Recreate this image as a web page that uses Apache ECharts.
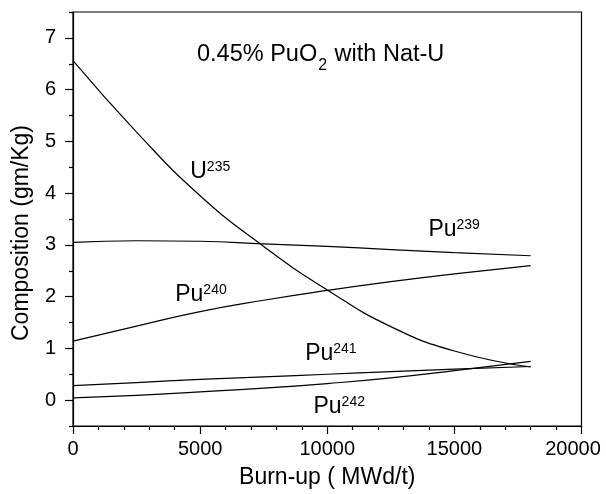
<!DOCTYPE html>
<html>
<head>
<meta charset="utf-8">
<script src="https://cdn.jsdelivr.net/npm/echarts@6/dist/echarts.min.js"></script>
<style>
html,body{margin:0;padding:0;background:#fff;}
#chart{width:606px;height:494px;}
</style>
</head>
<body>
<div id="chart"></div>
<script>
// ---- data ----
var burnup = [0, 2500, 5000, 7500, 10000, 12500, 15000, 18000];
var u235  = [6.56, 5.18, 3.95, 2.97, 2.13, 1.42, 0.95, 0.64];
var pu239 = [3.05, 3.08, 3.07, 3.02, 2.97, 2.91, 2.85, 2.79];
var pu240 = [1.14, 1.43, 1.71, 1.93, 2.12, 2.29, 2.44, 2.60];
var pu241 = [0.28, 0.34, 0.40, 0.45, 0.50, 0.55, 0.60, 0.65];
var pu242 = [0.045, 0.09, 0.16, 0.23, 0.32, 0.43, 0.57, 0.75];

var xTicks = [0, 5000, 10000, 15000, 20000];
var yTicks = [0, 1, 2, 3, 4, 5, 6, 7];
var yMinorTicks = [-0.5, 0.5, 1.5, 2.5, 3.5, 4.5, 5.5, 6.5, 7.5];

var labelBase = ['U', 'Pu', 'Pu', 'Pu', 'Pu'];
var labelSup  = ['235', '239', '240', '241', '242'];
var labelX    = [4611, 13978, 4021, 9131, 9458];
var labelY    = [4.42, 3.30, 2.03, 0.90, -0.13];

var titleParts = ['0.45% PuO', '2', ' with Nat-U'];
var xName = 'Burn-up ( MWd/t)';
var yName = 'Composition (gm/Kg)';

// ---- chart ----
var FONT = 'Liberation Sans, Arial, Helvetica, sans-serif';
function pair(xs, ys) { return xs.map(function (x, i) { return [x, ys[i]]; }); }

var lineStyle = { color: '#000', width: 1.2 };
function curve(name, ys) {
  return {
    name: name, type: 'line', data: pair(burnup, ys),
    smooth: 0.5, showSymbol: false, symbol: 'none',
    lineStyle: lineStyle, silent: true, animation: false
  };
}

var chart = echarts.init(document.getElementById('chart'), null, { renderer: 'canvas' });
chart.setOption({
  animation: false,
  backgroundColor: '#fff',
  title: {
    text: '{a|' + titleParts[0] + '}{s|' + titleParts[1] + '}{a|' + titleParts[2] + '}',
    left: 197, top: 43, padding: 0,
    textStyle: {
      fontWeight: 'normal', color: '#000',
      rich: {
        a: { fontFamily: FONT, fontSize: 23.5, lineHeight: 23.5, fontWeight: 'normal', color: '#000', verticalAlign: 'top' },
        s: { fontFamily: FONT, fontSize: 16, lineHeight: 16, fontWeight: 'normal', color: '#000', verticalAlign: 'top', padding: [15, 1, 0, 1] }
      }
    }
  },
  grid: {
    left: 73, right: 24.5, top: 12, bottom: 68,
    show: true, borderColor: '#000', borderWidth: 1.2, backgroundColor: 'transparent'
  },
  xAxis: {
    type: 'value', min: 0, max: 20000, interval: 5000,
    name: xName, nameLocation: 'middle', nameGap: 40,
    nameTextStyle: { fontFamily: FONT, fontSize: 23, color: '#000' },
    axisLine: { onZero: false, lineStyle: { color: '#000', width: 1.2 } },
    axisTick: { inside: false, length: 8, lineStyle: { color: '#000', width: 1.2 } },
    minorTick: { show: true, splitNumber: 5, length: 4, lineStyle: { color: '#000', width: 1.2 } },
    axisLabel: {
      fontFamily: FONT, fontSize: 20, color: '#000', margin: 13,
      formatter: function (v) { return v === 20000 ? '{e|' + v + '}' : String(v); },
      rich: { e: { fontFamily: FONT, fontSize: 20, color: '#000', padding: [0, 17, 0, 0] } }
    },
    splitLine: { show: false }
  },
  yAxis: [{
    type: 'value', min: -0.5, max: 7.5, position: 'left',
    name: yName, nameLocation: 'middle', nameGap: 40,
    nameTextStyle: { fontFamily: FONT, fontSize: 23, color: '#000', padding: [0, 28, 0, 0] },
    axisLine: { onZero: false, lineStyle: { color: '#000', width: 1.2 } },
    axisTick: { inside: false, length: 8, customValues: yTicks, lineStyle: { color: '#000', width: 1.2 } },
    axisLabel: { customValues: yTicks, fontFamily: FONT, fontSize: 20, color: '#000', margin: 17 },
    splitLine: { show: false }
  }, {
    type: 'value', min: -0.5, max: 7.5, position: 'left',
    axisLine: { show: false, onZero: false },
    axisTick: { inside: false, length: 4, customValues: yMinorTicks, lineStyle: { color: '#000', width: 1.2 } },
    axisLabel: { show: false },
    splitLine: { show: false }
  }],
  series: [
    curve('U235', u235),
    curve('Pu239', pu239),
    curve('Pu240', pu240),
    curve('Pu241', pu241),
    curve('Pu242', pu242),
    {
      type: 'scatter', symbolSize: 0, silent: true, animation: false,
      itemStyle: { opacity: 1, color: '#000' },
      data: labelX.map(function (x, i) {
        return { value: [x, labelY[i]], label: { formatter: '{b|' + labelBase[i] + '}{s|' + labelSup[i] + '}' } };
      }),
      label: {
        show: true, position: 'right', distance: 0, color: '#000', opacity: 1,
        textBorderWidth: 0,
        rich: {
          b: { fontFamily: FONT, fontSize: 23, lineHeight: 23, color: '#000', verticalAlign: 'top' },
          s: { fontFamily: FONT, fontSize: 14, lineHeight: 8, color: '#000', verticalAlign: 'top' }
        }
      }
    }
  ]
});
</script>
</body>
</html>
